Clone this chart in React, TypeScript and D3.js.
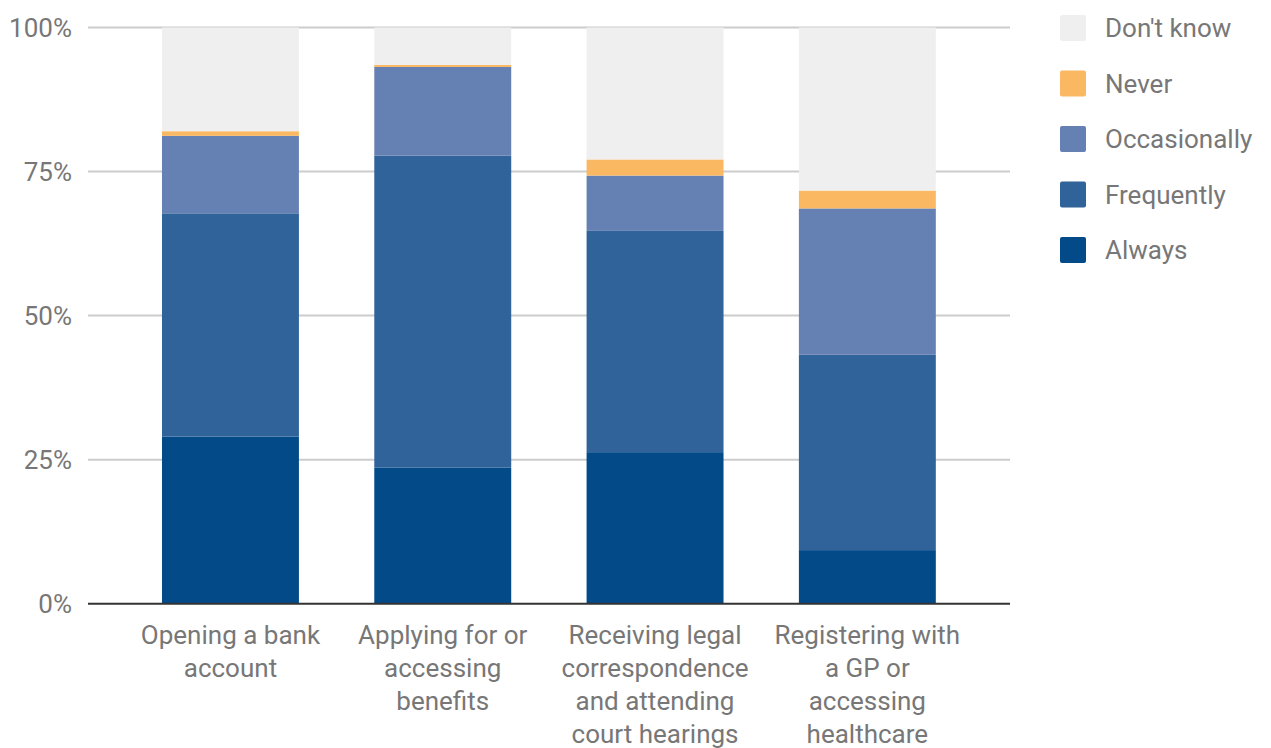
import React from "react";
import * as d3 from "d3";

const categories = [
  "Opening a bank account",
  "Applying for or accessing benefits",
  "Receiving legal correspondence and attending court hearings",
  "Registering with a GP or accessing healthcare",
];
const categoryLines = [
  ["Opening a bank", "account"],
  ["Applying for or", "accessing", "benefits"],
  ["Receiving legal", "correspondence", "and attending", "court hearings"],
  ["Registering with", "a GP or", "accessing", "healthcare"],
];
const seriesNames = ["Always", "Frequently", "Occasionally", "Never", "Don't know"];
const always = [29.0, 23.6, 26.3, 9.3];
const frequently = [38.75, 54.15, 38.4, 33.9];
const occasionally = [13.45, 15.4, 9.6, 25.4];
const never = [0.8, 0.35, 2.8, 3.1];
const dontKnow = [18.0, 6.5, 22.9, 28.3];
const yTicks = [0, 25, 50, 75, 100];
const colors = ["#024a88", "#2f639a", "#6580b2", "#fbb862", "#efefef"];

export default function App() {
  const W = 1271, H = 748;
  const x0 = 88, x1 = 1010;
  const y = d3.scaleLinear().domain([0, 100]).range([603.7, 27.5]);
  const x = d3.scaleBand<number>().domain([0, 1, 2, 3]).range([124.3, 973.5]).paddingInner(0.355).paddingOuter(0.1775);
  const table = categories.map((c, i) => ({
    i,
    Always: always[i],
    Frequently: frequently[i],
    Occasionally: occasionally[i],
    Never: never[i],
    "Don't know": dontKnow[i],
  }));
  const stack = d3.stack<any>().keys(seriesNames)(table);
  const font = "Roboto, sans-serif";
  const fs = 26;
  const legendOrder = ["Don't know", "Never", "Occasionally", "Frequently", "Always"];
  return (
    <svg width={W} height={H} style={{ position: "absolute", left: 0, top: 0 }}>
      {yTicks.map((t) => (
        <g key={t}>
          {t !== 0 && <line x1={x0} x2={x1} y1={y(t)} y2={y(t)} stroke="#cccccc" strokeWidth={2} />}
          <text x={72} y={y(t)} dy="0.35em" textAnchor="end" fontFamily={font} fontSize={fs} fill="#777777">
            {t}%
          </text>
        </g>
      ))}
      {stack.map((s, si) => (
        <g key={s.key} fill={colors[si]}>
          {s.map((d, i) => (
            <rect key={i} x={x(i)} width={x.bandwidth()} y={y(d[1])} height={y(d[0]) - y(d[1])} />
          ))}
        </g>
      ))}
      <line x1={x0} x2={x1} y1={y(0)} y2={y(0)} stroke="#333333" strokeWidth={2} />
      {categoryLines.map((lines, i) => (
        <text key={i} textAnchor="middle" fontFamily={font} fontSize={fs} fill="#777777">
          {lines.map((l, j) => (
            <tspan key={j} x={(x(i) as number) + x.bandwidth() / 2} y={644 + j * 33}>
              {l}
            </tspan>
          ))}
        </text>
      ))}
      {legendOrder.map((name, k) => {
        const si = seriesNames.indexOf(name);
        const cy = 28 + k * 55.5;
        return (
          <g key={name}>
            <rect x={1060} y={cy - 13} width={26} height={26} rx={2} fill={colors[si]} />
            <text x={1105} y={cy} dy="0.35em" fontFamily={font} fontSize={fs} fill="#777777">
              {name}
            </text>
          </g>
        );
      })}
    </svg>
  );
}
